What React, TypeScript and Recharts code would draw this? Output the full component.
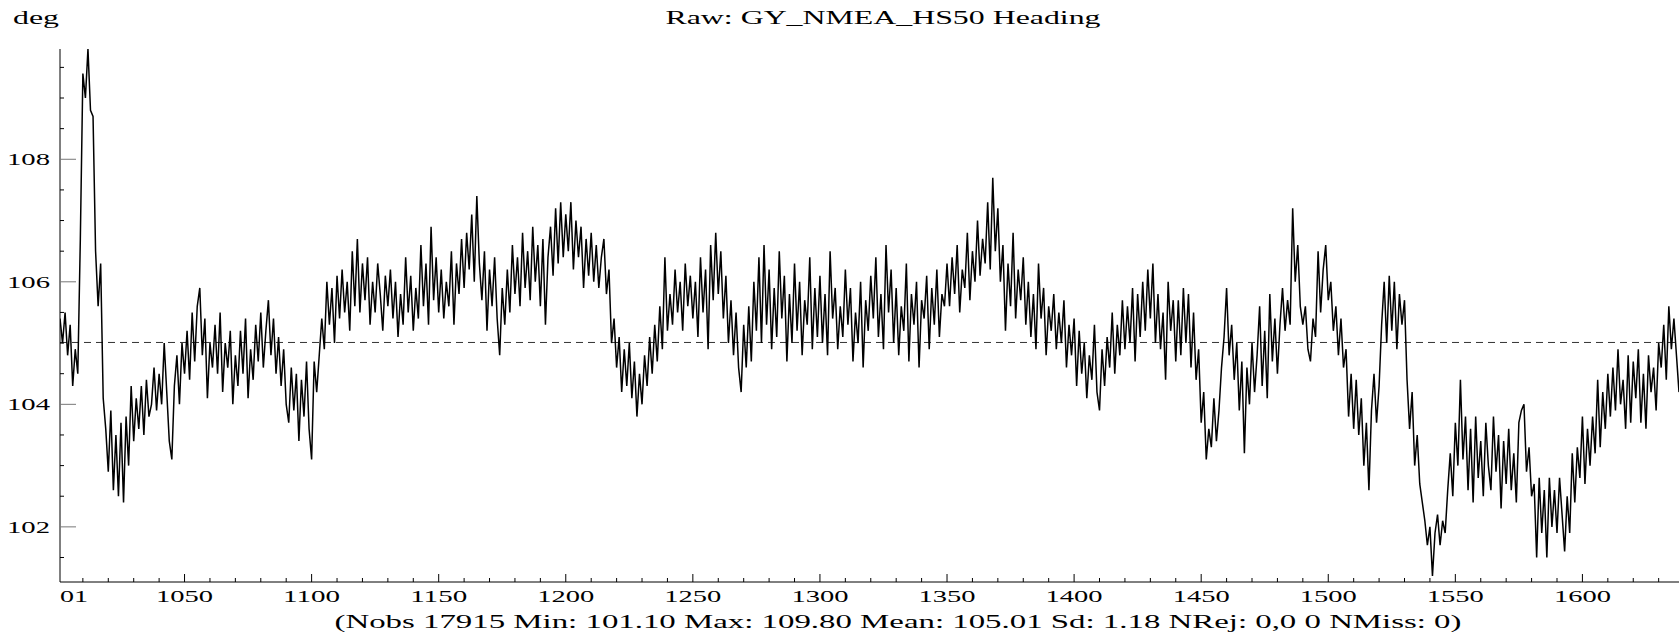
import { LineChart, Line, XAxis, YAxis, ReferenceLine } from 'recharts';

// heading samples, one per time unit, starting at t = 1001
const START_T = 1001;
const hdg1001 = [
  105.4, 105.0, 105.5, 104.8, 105.3, 104.3, 104.9, 104.5, 106.7, 109.4,
  109.0, 109.8, 108.8, 108.7, 106.5, 105.6, 106.3, 104.1, 103.6, 102.9,
  103.9, 102.6, 103.5, 102.5, 103.7, 102.4, 103.8, 103.0, 104.3, 103.4,
  104.1, 103.6, 104.3, 103.5, 104.4, 103.8, 104.0, 104.6, 103.9, 104.5,
  104.0, 105.0, 104.2, 103.4, 103.1, 104.3, 104.8, 104.0, 105.0, 104.5,
];
const hdg1051 = [
  105.2, 104.4, 105.5, 104.7, 105.6, 105.9, 104.8, 105.4, 104.1, 105.0,
  104.6, 105.3, 104.5, 105.5, 104.2, 105.0, 104.6, 105.2, 104.0, 104.8,
  104.3, 105.2, 104.5, 105.4, 104.1, 104.9, 104.4, 105.3, 104.7, 105.5,
  104.6, 105.2, 105.7, 104.8, 105.4, 104.5, 105.1, 104.3, 104.9, 104.0,
  103.7, 104.6, 103.9, 104.5, 103.4, 104.4, 103.8, 104.7, 103.6, 103.1,
];
const hdg1101 = [
  104.7, 104.2, 104.8, 105.4, 104.9, 106.0, 105.3, 105.9, 105.0, 106.1,
  105.4, 106.2, 105.5, 106.0, 105.2, 106.5, 105.6, 106.7, 105.5, 106.3,
  105.7, 106.4, 105.3, 106.0, 105.5, 106.3, 105.8, 105.2, 106.1, 105.6,
  106.2, 105.4, 106.0, 105.1, 105.8, 105.3, 106.4, 105.5, 106.1, 105.2,
  105.9, 105.4, 106.6, 105.6, 106.3, 105.3, 106.9, 105.7, 106.4, 105.5,
];
const hdg1151 = [
  106.2, 105.4, 106.0, 105.6, 106.5, 105.3, 106.3, 105.8, 106.7, 105.9,
  106.8, 106.2, 107.1, 106.0, 107.4, 106.3, 105.7, 106.5, 105.2, 106.2,
  105.6, 106.4, 105.4, 104.8, 105.9, 105.3, 106.2, 105.5, 106.6, 105.8,
  106.4, 105.6, 106.8, 105.9, 106.5, 105.7, 106.9, 106.0, 106.6, 105.6,
  106.7, 105.3, 106.4, 106.9, 106.1, 107.2, 106.3, 107.3, 106.4, 107.1,
];
const hdg1201 = [
  106.5, 107.3, 106.2, 107.0, 106.4, 106.9, 105.9, 106.7, 106.1, 106.8,
  106.0, 106.6, 105.9, 106.4, 106.7, 105.8, 106.2, 105.0, 105.4, 104.6,
  105.1, 104.2, 104.9, 104.3, 105.0, 104.1, 104.7, 103.8, 104.5, 104.0,
  104.8, 104.3, 105.1, 104.5, 105.3, 104.7, 105.6, 104.9, 106.4, 105.2,
  105.8, 105.3, 106.2, 105.5, 106.0, 105.2, 106.3, 105.6, 106.1, 105.4,
];
const hdg1251 = [
  106.0, 105.1, 106.4, 105.5, 106.2, 104.9, 106.6, 105.7, 106.8, 105.8,
  106.5, 105.4, 106.1, 105.0, 105.7, 104.8, 105.5, 104.6, 104.2, 105.3,
  104.6, 105.6, 104.7, 106.0, 105.2, 106.4, 105.0, 106.6, 105.3, 106.2,
  104.9, 105.9, 105.1, 106.5, 105.4, 106.1, 104.7, 105.8, 105.0, 106.3,
  105.2, 106.0, 104.8, 105.7, 105.3, 106.4, 104.9, 105.9, 105.1, 106.1,
];
const hdg1301 = [
  105.0, 105.8, 104.8, 106.5, 105.4, 105.9, 104.9, 105.6, 105.1, 106.2,
  105.3, 105.9, 104.7, 105.5, 105.0, 106.0, 104.6, 105.7, 105.2, 106.1,
  105.4, 106.4, 105.1, 105.8, 104.9, 106.6, 105.5, 106.2, 105.0, 105.9,
  104.8, 105.6, 105.2, 106.3, 104.7, 105.8, 105.3, 106.0, 104.6, 105.7,
  105.4, 106.1, 104.9, 105.9, 105.3, 106.2, 105.1, 105.8, 105.6, 106.3,
];
const hdg1351 = [
  105.6, 106.4, 105.8, 106.6, 105.5, 106.2, 105.9, 106.8, 105.7, 106.5,
  106.0, 107.0, 106.1, 106.7, 106.3, 107.3, 106.2, 107.7, 106.5, 107.2,
  106.0, 106.6, 105.2, 106.3, 105.6, 106.8, 105.4, 106.2, 105.7, 106.4,
  105.3, 106.0, 105.1, 105.8, 104.9, 106.3, 105.4, 105.9, 104.8, 105.6,
  105.2, 105.8, 104.9, 105.5, 105.0, 105.7, 104.6, 105.3, 104.8, 105.4,
];
const hdg1401 = [
  104.3, 105.2, 104.5, 105.0, 104.1, 104.8, 104.4, 105.3, 104.2, 103.9,
  104.9, 104.3, 105.1, 104.6, 105.5, 104.5, 105.3, 104.8, 105.7, 104.9,
  105.6, 105.0, 105.9, 104.7, 105.8, 105.1, 106.0, 105.2, 106.2, 105.4,
  106.3, 105.0, 105.8, 104.9, 105.5, 104.4, 106.0, 105.2, 105.7, 104.7,
  105.7, 104.8, 105.9, 105.0, 105.8, 104.6, 105.5, 104.4, 104.9, 103.7,
];
const hdg1451 = [
  104.2, 103.1, 103.6, 103.3, 104.1, 103.4, 103.9, 104.6, 105.1, 105.9,
  104.8, 105.3, 104.4, 105.0, 103.9, 104.7, 103.2, 104.6, 104.0, 105.0,
  104.2, 104.8, 105.6, 104.3, 105.2, 104.1, 105.8, 104.7, 105.4, 104.5,
  105.3, 105.9, 105.2, 105.7, 105.3, 107.2, 106.0, 106.6, 105.6, 105.3,
  105.6, 104.9, 104.7, 105.4, 105.1, 106.5, 105.5, 106.2, 106.6, 105.7,
];
const hdg1501 = [
  106.0, 105.2, 105.6, 104.8, 105.4, 104.6, 104.9, 103.8, 104.5, 103.6,
  104.4, 103.5, 104.1, 103.0, 103.7, 102.6, 103.9, 104.5, 103.7, 104.3,
  105.3, 106.0, 105.0, 106.1, 105.2, 106.0, 104.9, 105.8, 105.3, 105.7,
  104.4, 103.6, 104.2, 103.0, 103.5, 102.7, 102.4, 102.1, 101.7, 102.0,
  101.2, 101.9, 102.2, 101.7, 102.1, 101.9, 102.6, 103.2, 102.5, 103.7,
];
const hdg1551 = [
  103.0, 104.4, 103.1, 103.8, 102.6, 103.6, 102.4, 103.8, 102.8, 103.4,
  102.5, 103.7, 103.0, 102.6, 103.8, 102.9, 103.5, 102.3, 103.4, 102.7,
  103.6, 102.6, 103.2, 102.4, 103.7, 103.9, 104.0, 102.9, 103.3, 102.5,
  102.7, 101.5, 102.8, 101.9, 102.6, 101.5, 102.8, 102.0, 102.6, 101.9,
  102.8, 102.2, 101.6, 102.5, 101.9, 103.2, 102.4, 103.3, 102.8, 103.8,
];
const hdg1601 = [
  102.7, 103.6, 103.0, 103.8, 103.2, 104.4, 103.3, 104.2, 103.6, 104.5,
  103.8, 104.6, 103.9, 104.9, 104.0, 104.4, 103.6, 104.8, 103.7, 104.7,
  104.1, 104.9, 103.7, 104.5, 103.6, 104.8, 104.2, 104.6, 103.9, 105.0,
  104.6, 105.3, 104.4, 105.6, 104.9, 105.4, 104.8, 104.2,
];

const MEAN = 105.01;
const X_DOMAIN = [1001, 1638];
const Y_DOMAIN = [101.1, 109.8];
const xTicks = [1001, 1010, 1020, 1030, 1040, 1050, 1060, 1070, 1080, 1090, 1100, 1110, 1120, 1130, 1140, 1150, 1160, 1170, 1180, 1190, 1200, 1210, 1220, 1230, 1240, 1250, 1260, 1270, 1280, 1290, 1300, 1310, 1320, 1330, 1340, 1350, 1360, 1370, 1380, 1390, 1400, 1410, 1420, 1430, 1440, 1450, 1460, 1470, 1480, 1490, 1500, 1510, 1520, 1530, 1540, 1550, 1560, 1570, 1580, 1590, 1600, 1610, 1620, 1630];
const yTicks = [101.5, 102, 102.5, 103, 103.5, 104, 104.5, 105, 105.5, 106, 106.5, 107, 107.5, 108, 108.5, 109, 109.5];

const TITLE = 'Raw: GY_NMEA_HS50 Heading';
const UNIT = 'deg';
const STATS = '(Nobs 17915 Min: 101.10 Max: 109.80 Mean: 105.01 Sd: 1.18 NRej: 0,0 0 NMiss: 0)';

const W = 1679;
const H = 632;
const PLOT_TOP = 49;
const PLOT_LEFT = 60;
const PLOT_BOTTOM = 582;
const PLOT_RIGHT = 1679;
const FONT = '"Liberation Serif", "Times New Roman", serif';

const data = [
  ...hdg1001, ...hdg1051, ...hdg1101, ...hdg1151, ...hdg1201, ...hdg1251, ...hdg1301,
  ...hdg1351, ...hdg1401, ...hdg1451, ...hdg1501, ...hdg1551, ...hdg1601,
].map((v, i) => ({ t: START_T + i, v }));

function BottomTick(props: any) {
  const { x, payload } = props;
  const val = payload.value;
  if (val === START_T) {
    return (
      <text x={PLOT_LEFT} y={602} fontFamily={FONT} fontSize={17} fill="#000" textLength={28} lengthAdjust="spacingAndGlyphs">01</text>
    );
  }
  const major = val % 50 === 0;
  return (
    <g>
      <line x1={x} x2={x} y1={PLOT_BOTTOM} y2={PLOT_BOTTOM - (major ? 8 : 4)} stroke="#000" />
      {major && (
        <text x={x} y={602} textAnchor="middle" fontFamily={FONT} fontSize={17} fill="#000" textLength={57} lengthAdjust="spacingAndGlyphs">{val}</text>
      )}
    </g>
  );
}

function TopTick(props: any) {
  const { x, payload } = props;
  const val = payload.value;
  if (val === START_T) return <g />;
  const major = val % 50 === 0;
  return <line x1={x} x2={x} y1={PLOT_TOP} y2={PLOT_TOP + (major ? 8 : 4)} stroke="#000" />;
}

function LeftTick(props: any) {
  const { y, payload } = props;
  const val = payload.value;
  const major = val % 2 === 0;
  return (
    <g>
      <line x1={PLOT_LEFT} x2={PLOT_LEFT + (major ? 16 : 4)} y1={y} y2={y} stroke={major ? '#777' : '#000'} />
      {major && (
        <text x={50} y={y + 6} textAnchor="end" fontFamily={FONT} fontSize={17} fill="#000" textLength={43} lengthAdjust="spacingAndGlyphs">{val}</text>
      )}
    </g>
  );
}

function RightTick(props: any) {
  const { y, payload } = props;
  const major = payload.value % 2 === 0;
  return <line x1={PLOT_RIGHT} x2={PLOT_RIGHT - (major ? 6 : 4)} y1={y} y2={y} stroke="#000" />;
}

export default function App() {
  return (
    <div style={{ position: 'absolute', left: 0, top: 0, width: W, height: H, background: '#fff' }}>
      <LineChart
        width={W}
        height={H}
        data={data}
        margin={{ top: PLOT_TOP, right: 0, bottom: 0, left: 0 }}
      >
        <XAxis
          xAxisId="bottom"
          dataKey="t"
          type="number"
          domain={X_DOMAIN}
          ticks={xTicks}
          interval={0}
          allowDataOverflow
          height={H - PLOT_BOTTOM}
          axisLine={{ stroke: '#000' }}
          tickLine={false}
          tickSize={0}
          tick={<BottomTick />}
        />
        <XAxis
          xAxisId="top"
          orientation="top"
          dataKey="t"
          type="number"
          domain={X_DOMAIN}
          ticks={xTicks}
          interval={0}
          allowDataOverflow
          height={0}
          axisLine={{ stroke: '#000' }}
          tickLine={false}
          tickSize={0}
          tick={<TopTick />}
        />
        <YAxis
          yAxisId="left"
          type="number"
          domain={Y_DOMAIN}
          ticks={yTicks}
          interval={0}
          allowDataOverflow
          width={PLOT_LEFT}
          axisLine={{ stroke: '#000' }}
          tickLine={false}
          tickSize={0}
          tick={<LeftTick />}
        />
        <YAxis
          yAxisId="right"
          orientation="right"
          type="number"
          domain={Y_DOMAIN}
          ticks={yTicks}
          interval={0}
          allowDataOverflow
          width={0}
          axisLine={false}
          tickLine={false}
          tickSize={0}
          tick={<RightTick />}
        />
        <ReferenceLine
          xAxisId="bottom"
          yAxisId="left"
          y={MEAN}
          stroke="#333"
          strokeDasharray="7 5"
          strokeWidth={1}
        />
        <Line
          xAxisId="bottom"
          yAxisId="left"
          type="linear"
          dataKey="v"
          stroke="#000"
          strokeWidth={1.5}
          dot={false}
          activeDot={false}
          isAnimationActive={false}
        />
      </LineChart>
      <svg
        width={W}
        height={H}
        style={{ position: 'absolute', left: 0, top: 0, pointerEvents: 'none' }}
      >
        <text x={13} y={24} fontFamily={FONT} fontSize={18} fill="#000" textLength={46} lengthAdjust="spacingAndGlyphs">{UNIT}</text>
        <text x={883} y={24} textAnchor="middle" fontFamily={FONT} fontSize={18} fill="#000" textLength={435} lengthAdjust="spacingAndGlyphs">{TITLE}</text>
        <text x={898} y={628} textAnchor="middle" fontFamily={FONT} fontSize={18} fill="#000" textLength={1127} lengthAdjust="spacingAndGlyphs">{STATS}</text>
      </svg>
    </div>
  );
}
